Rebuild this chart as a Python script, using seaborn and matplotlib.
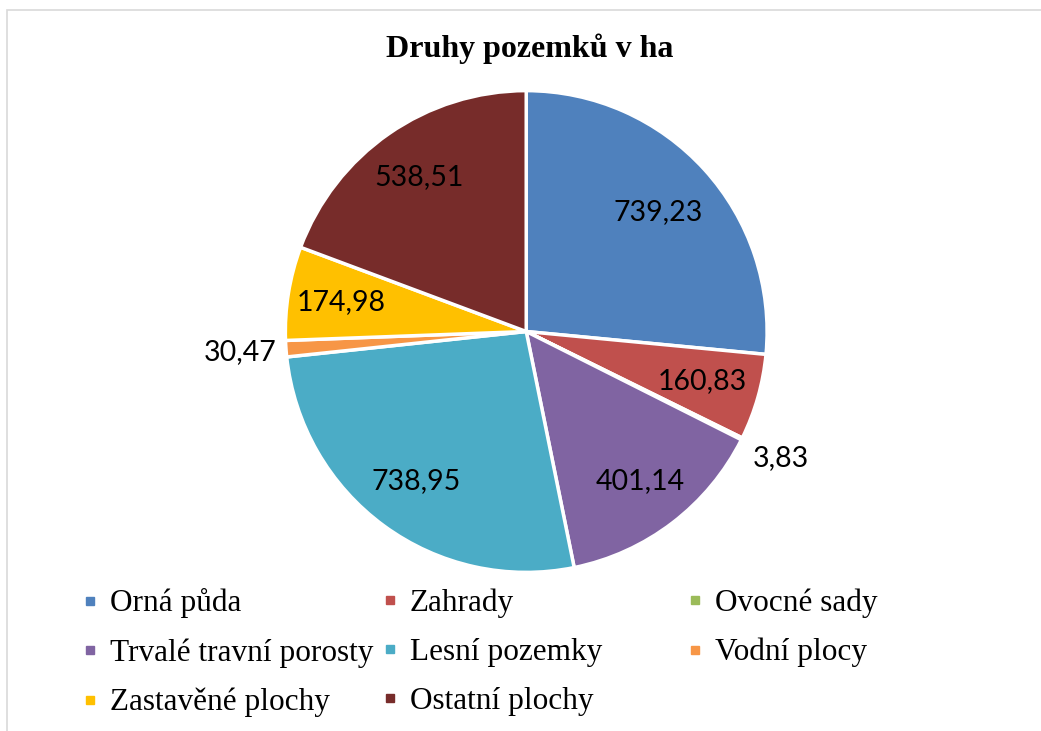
import numpy as np
import matplotlib.pyplot as plt
import seaborn as sns
from matplotlib.lines import Line2D
from matplotlib.patches import Rectangle

# data
categories = ['Orná půda', 'Zahrady', 'Ovocné sady', 'Trvalé travní porosty',
              'Lesní pozemky', 'Vodní plocy', 'Zastavěné plochy', 'Ostatní plochy']
values = [739.23, 160.83, 3.83, 401.14, 738.95, 30.47, 174.98, 538.51]
colors = ['#4F81BD', '#C0504D', '#9BBB59', '#8064A2',
          '#4BACC6', '#F79646', '#FFC000', '#772C2A']

sns.set_style('white')
plt.rcParams['font.family'] = ['Liberation Serif', 'DejaVu Serif']
plt.rcParams['text.color'] = 'black'

fig = plt.figure(figsize=(10.41, 7.31), dpi=100)

# light grey chart border
fig.patches.append(Rectangle((0.0072, -0.05), 1.1, 1.037, transform=fig.transFigure,
                             fill=False, edgecolor='#D9D9D9', linewidth=1.2))

ax = fig.add_axes([0.274, 0.217, 0.463, 0.659])
wedges, _ = ax.pie(values, colors=colors, startangle=90, counterclock=False,
                   wedgeprops=dict(edgecolor='white', linewidth=2.5))
ax.set_xlim(-1, 1)
ax.set_ylim(-1, 1)
ax.set_aspect('equal')

# label distance per slice (Excel "best fit": small slices outside)
label_r = [0.74, 0.76, 1.18, 0.78, 0.77, 1.19, 0.78, 0.78]
for w, v, r in zip(wedges, values, label_r):
    mid = np.deg2rad((w.theta1 + w.theta2) / 2)
    x, y = r * np.cos(mid), r * np.sin(mid)
    ax.text(x, y, f'{v:.2f}'.replace('.', ','), ha='center', va='center',
            fontsize=20.5, family=['Lato', 'DejaVu Sans'], color='black')

fig.text(0.509, 0.934, 'Druhy pozemků v ha', ha='center', va='center',
         fontsize=23, fontweight='bold')

# legend: three fixed-width columns, filled row by row
handles = [Line2D([], [], linestyle='none', marker='s', markersize=6,
                  markerfacecolor=c, markeredgecolor=c) for c in colors]
col_x = [0.080, 0.368, 0.661]
for j in range(3):
    idx = list(range(j, len(categories), 3))
    leg = fig.legend([handles[i] for i in idx], [categories[i] for i in idx],
                     loc='upper left', bbox_to_anchor=(col_x[j], 0.195),
                     frameon=False, fontsize=22.5, handlelength=0.45,
                     handletextpad=0.41, labelspacing=0.64, borderaxespad=0,
                     borderpad=0)

fig.savefig('out.png', dpi=100)
